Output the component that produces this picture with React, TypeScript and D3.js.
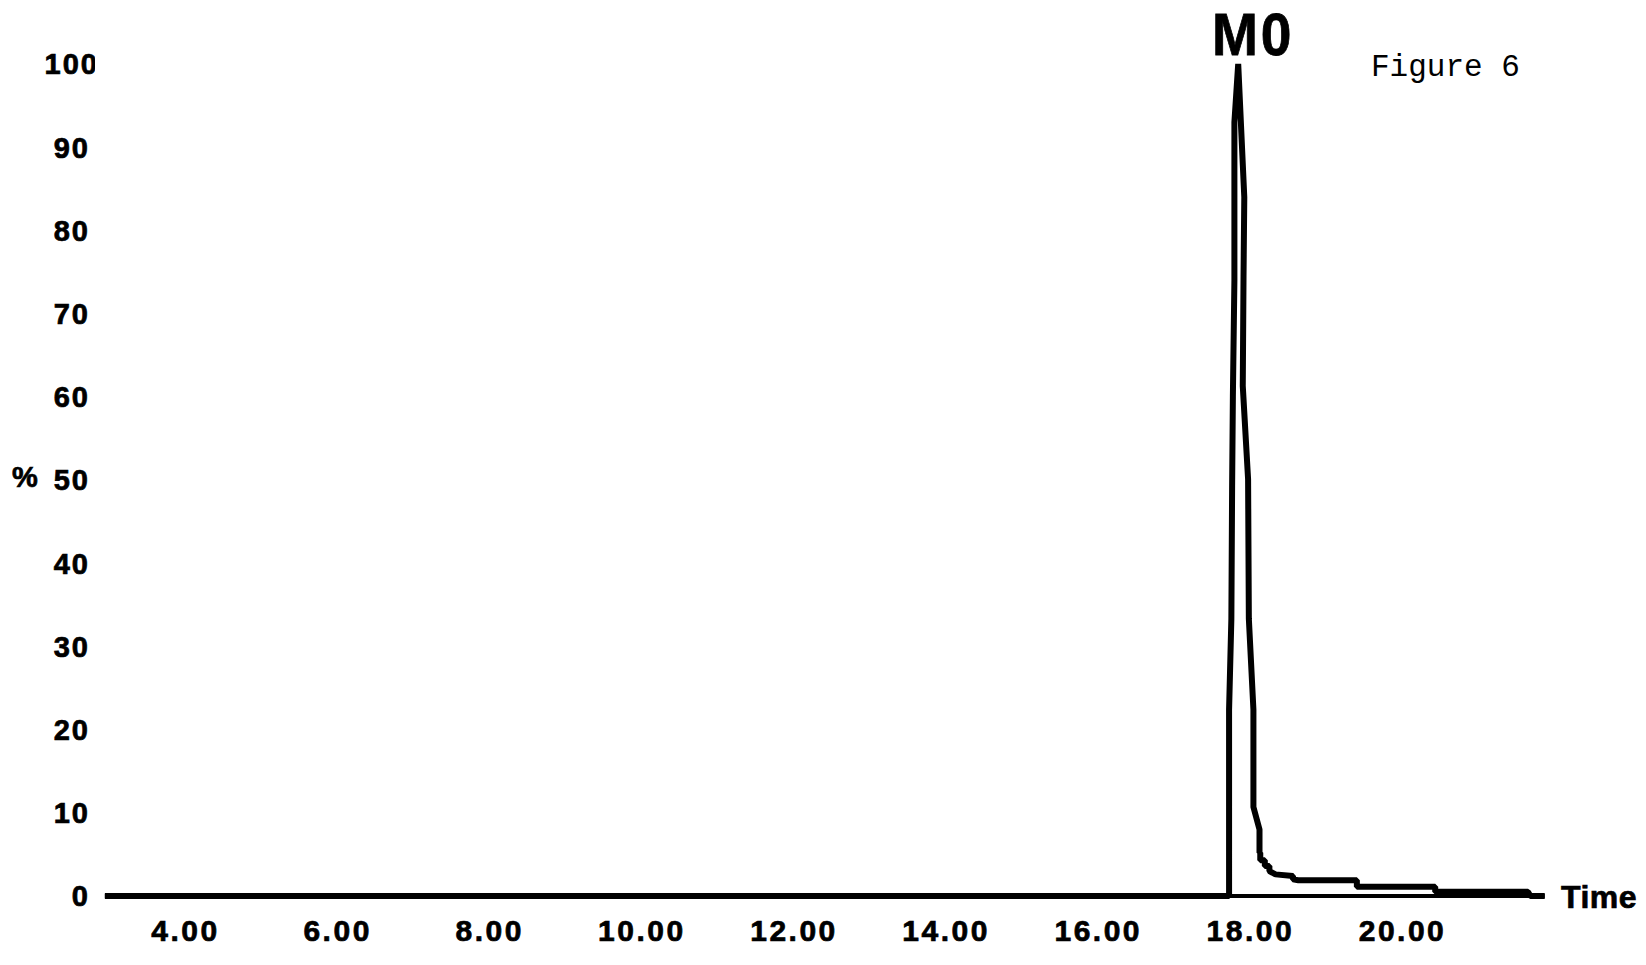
import { useRef, useEffect } from "react";
import * as d3 from "d3";

// chromatogram trace, time in minutes, intensity in %
const times = [
  2.94, 17.72, 17.72, 17.75, 17.76, 17.77, 17.79, 17.79, 17.84, 17.92, 17.91,
  17.9, 17.97, 17.98, 18.04, 18.04, 18.04, 18.12, 18.12, 18.13, 18.13, 18.19,
  18.19, 18.25, 18.25, 18.33, 18.56, 18.56, 18.63, 19.4, 19.4, 20.43, 20.43,
  21.65, 21.68, 21.87,
];
const values = [
  0, 0, 22.4, 33.3, 49.3, 60, 74, 93, 100, 84, 74.5, 61.3, 50.1, 33.3, 22.4,
  15, 10.7, 8, 5.2, 5.2, 4.3, 4.3, 3.6, 3.6, 3.0, 2.6, 2.4, 2.0, 1.9, 1.9, 1.1,
  1.1, 0.5, 0.5, 0, 0,
];

const xTicks = [4, 6, 8, 10, 12, 14, 16, 18, 20];
const yTicks = [0, 10, 20, 30, 40, 50, 60, 70, 80, 90, 100];

const peakLabel = "M0";
const peakTime = 17.84;

const W = 1646;
const H = 965;

const Chromatogram = () => {
  const svgRef = useRef(null);

  useEffect(() => {
    document.body.style.margin = "0";
    const svg = d3.select(svgRef.current);
    svg.selectAll("*").remove();

    const xScale = d3.scaleLinear().domain([4, 20]).range([185.5, 1402.5]);
    const yScale = d3.scaleLinear().domain([0, 100]).range([896, 64]);

    const font = "'Liberation Sans', Arial, sans-serif";

    // clip for the top tick label (cut off like the original)
    svg
      .append("defs")
      .append("clipPath")
      .attr("id", "ylab-clip")
      .append("rect")
      .attr("x", 0)
      .attr("y", 0)
      .attr("width", 95)
      .attr("height", H);

    // y tick labels
    svg
      .append("g")
      .attr("clip-path", "url(#ylab-clip)")
      .selectAll("text")
      .data(yTicks)
      .join("text")
      .attr("x", (d) => (d === 100 ? 99 : 90))
      .attr("y", (d) => yScale(d))
      .attr("dy", "0.36em")
      .attr("text-anchor", "end")
      .attr("font-family", font)
      .attr("font-weight", "bold")
      .attr("font-size", 29)
      .attr("letter-spacing", 2)
      .attr("stroke", "#000")
      .attr("stroke-width", 0.7)
      .text((d) => d);

    svg
      .append("text")
      .attr("x", 12)
      .attr("y", yScale(50) - 3)
      .attr("dy", "0.36em")
      .attr("font-family", font)
      .attr("font-weight", "bold")
      .attr("font-size", 29)
      .attr("stroke", "#000")
      .attr("stroke-width", 0.7)
      .text("%");

    // x tick labels
    svg
      .append("g")
      .selectAll("text")
      .data(xTicks)
      .join("text")
      .attr("x", (d) => xScale(d))
      .attr("y", 941)
      .attr("text-anchor", "middle")
      .attr("font-family", font)
      .attr("font-weight", "bold")
      .attr("font-size", 30)
      .attr("letter-spacing", 2.5)
      .attr("stroke", "#000")
      .attr("stroke-width", 0.7)
      .text((d) => d.toFixed(2));

    // x axis baseline
    svg
      .append("line")
      .attr("x1", xScale(times[0]))
      .attr("x2", xScale(times[times.length - 1]))
      .attr("y1", yScale(0))
      .attr("y2", yScale(0))
      .attr("stroke", "#000")
      .attr("stroke-width", 4);

    svg
      .append("text")
      .attr("x", 1561)
      .attr("y", 908)
      .attr("font-family", font)
      .attr("font-weight", "bold")
      .attr("font-size", 32)
      .attr("letter-spacing", 0.5)
      .attr("stroke", "#000")
      .attr("stroke-width", 0.7)
      .text("Time");

    // trace
    const pts = times.map((t, i) => [t, values[i]]);
    const line = d3
      .line()
      .x((d) => xScale(d[0]))
      .y((d) => yScale(d[1]));
    svg
      .append("path")
      .attr("d", line(pts))
      .attr("fill", "none")
      .attr("stroke", "#000")
      .attr("stroke-width", 6)
      .attr("stroke-linejoin", "bevel");

    // peak label
    svg
      .append("text")
      .attr("transform", `translate(${xScale(peakTime) + 15},55) scale(0.92,1)`)
      .attr("text-anchor", "middle")
      .attr("font-family", font)
      .attr("font-weight", "bold")
      .attr("font-size", 60)
      .attr("letter-spacing", 3)
      .attr("stroke", "#000")
      .attr("stroke-width", 0.8)
      .text(peakLabel);

    svg
      .append("text")
      .attr("x", 1371)
      .attr("y", 76)
      .attr("font-family", "'Courier New', 'Liberation Mono', monospace")
      .attr("font-size", 31)
      .text("Figure 6");
  }, []);

  return (
    <svg
      ref={svgRef}
      width={W}
      height={H}
      style={{ display: "block", background: "#fff" }}
    ></svg>
  );
};

export default function App() {
  return <Chromatogram />;
}
